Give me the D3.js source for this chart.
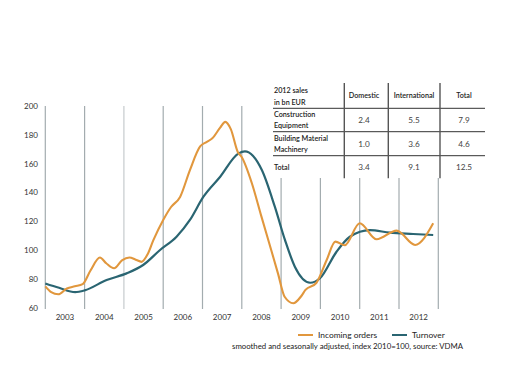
<!DOCTYPE html>
<html>
<head>
<meta charset="utf-8">
<script src="https://cdn.jsdelivr.net/npm/d3@7"></script>
<style>
  body { margin: 0; background: #fff; }
  svg { display: block; font-family: Lato, "Open Sans", sans-serif; }
</style>
</head>
<body>
<div id="chart"></div>
<script>
// incoming orders (decimal year, index 2010=100)
const ordersT = [2003.00, 2003.15, 2003.33, 2003.55, 2003.75, 2003.95, 2004.15, 2004.39, 2004.55, 2004.75,
  2004.95, 2005.14, 2005.30, 2005.45, 2005.60, 2005.75, 2006.00, 2006.20, 2006.43, 2006.68,
  2006.94, 2007.10, 2007.25, 2007.45, 2007.58, 2007.72, 2007.90, 2008.00, 2008.25, 2008.50,
  2008.75, 2008.92, 2009.09, 2009.31, 2009.52, 2009.62, 2009.90, 2010.16, 2010.38, 2010.62,
  2011.00, 2011.43, 2011.94, 2012.41, 2012.87];
const ordersV = [75, 71, 69.5, 73.5, 75, 76.5, 86, 95, 91, 87.5,
  93, 95, 93.5, 92, 97, 107, 121, 130, 137, 155.6,
  172, 175, 177.6, 185, 189, 184, 168, 164.5, 147, 123.3,
  100, 84, 67.8, 63.3, 68.5, 72.5, 77.5, 93.3, 106, 103.5,
  118.7, 107.6, 113.6, 103.7, 118.7];

// turnover
const turnT = [2003.00, 2003.35, 2003.76, 2004.00, 2004.56, 2005.07, 2005.49, 2005.92, 2006.34, 2006.68,
  2007.02, 2007.45, 2007.91, 2008.08, 2008.51, 2008.84, 2009.10, 2009.35, 2009.74, 2009.99,
  2010.41, 2010.75, 2011.26, 2011.77, 2012.36, 2012.87];
const turnV = [77, 74, 71, 72.2, 79.4, 84, 89.8, 100.2, 109.4, 121,
  137, 151, 167, 168.5, 155.6, 130.2, 107, 88.6, 77.5, 80.6,
  99, 109.4, 114, 112.2, 111.3, 110.6];

const years = [2003, 2004, 2005, 2006, 2007, 2008, 2009, 2010, 2011, 2012];
const yTicks = [60, 80, 100, 120, 140, 160, 180, 200];

// 2012 sales table
const tableCols = ["Domestic", "International", "Total"];
const tableRows = [["Construction", "Equipment"], ["Building Material", "Machinery"], ["Total"]];
const tableVals = [["2.4", "5.5", "7.9"], ["1.0", "3.6", "4.6"], ["3.4", "9.1", "12.5"]];

const legendNames = ["Incoming orders", "Turnover"];
const note = "smoothed and seasonally adjusted, index 2010=100, source: VDMA";

const w = 505, h = 379;
const orange = "#e1973d", teal = "#2a6572";

const svg = d3.select("#chart").append("svg").attr("width", w).attr("height", h);

const x = d3.scaleLinear().domain([2003, 2013]).range([45.3, 438.3]);
const y = d3.scaleLinear().domain([60, 200]).range([308, 106]);

// year separators (the ones right of the table stop below it)
const seps = d3.range(2003, 2014);
svg.append("g").selectAll("line").data(seps).enter().append("line")
  .attr("x1", d => x(d)).attr("x2", d => x(d))
  .attr("y1", d => d >= 2009 ? 178 : y(200))
  .attr("y2", y(60) + 1)
  .attr("stroke", d => d === 2005 ? "#c6cbcd" : "#a3acaf")
  .attr("stroke-width", 1.2);

// y labels
svg.append("g").selectAll("text").data(yTicks).enter().append("text")
  .attr("x", 38).attr("y", d => y(d)).attr("dy", "0.35em")
  .attr("text-anchor", "end").attr("font-size", 8).attr("fill", "#333")
  .text(d => d);

// x labels
svg.append("g").selectAll("text").data(years).enter().append("text")
  .attr("x", d => x(d + 0.5)).attr("y", 320)
  .attr("text-anchor", "middle").attr("font-size", 8).attr("fill", "#333")
  .text(d => d);

const line = d3.line().x(d => x(d[0])).y(d => y(d[1])).curve(d3.curveMonotoneX);

svg.append("path").datum(d3.zip(turnT, turnV))
  .attr("d", line).attr("fill", "none").attr("stroke", teal).attr("stroke-width", 2.2);
svg.append("path").datum(d3.zip(ordersT, ordersV))
  .attr("d", line).attr("fill", "none").attr("stroke", orange).attr("stroke-width", 2.1);

// table
const tb = svg.append("g").attr("font-size", 7.2).attr("fill", "#222");
const colX = [364, 414, 464];
const sepX = [344.3, 388.3, 440];
const ruleY = [108.3, 131.7, 155.7];
const rowMid = [120, 144, 167.3];

tb.append("text").attr("x", 274).attr("y", 93.3).attr("font-weight", 600).text("2012 sales");
tb.append("text").attr("x", 274).attr("y", 104.5).attr("font-weight", 600).text("in bn EUR");
tb.selectAll(".col").data(tableCols).enter().append("text")
  .attr("x", (d, i) => colX[i]).attr("y", 95).attr("dy", "0.35em")
  .attr("text-anchor", "middle").attr("font-weight", 600).text(d => d);

tableRows.forEach((r, i) => {
  r.forEach((s, j) => {
    tb.append("text").attr("x", 274)
      .attr("y", rowMid[i] + (r.length === 1 ? 0 : (j === 0 ? -5.4 : 5.4)))
      .attr("dy", "0.35em").attr("font-weight", 600).text(s);
  });
  tb.selectAll(".v" + i).data(tableVals[i]).enter().append("text")
    .attr("x", (d, k) => colX[k]).attr("y", rowMid[i]).attr("dy", "0.35em")
    .attr("text-anchor", "middle").attr("font-size", 8.2).attr("fill", "#444")
    .text(d => d);
});

tb.selectAll(".rule").data(ruleY).enter().append("line")
  .attr("x1", 273).attr("x2", 485).attr("y1", d => d).attr("y2", d => d)
  .attr("stroke", "#333").attr("stroke-width", 1);
tb.selectAll(".sep").data(sepX).enter().append("line")
  .attr("x1", d => d).attr("x2", d => d).attr("y1", 83).attr("y2", 178.3)
  .attr("stroke", "#555").attr("stroke-width", 1.4);

// legend
const lg = svg.append("g").attr("font-size", 8.4).attr("fill", "#222");
const lgX = [298, 392];
legendNames.forEach((n, i) => {
  lg.append("line").attr("x1", lgX[i]).attr("x2", lgX[i] + 15).attr("y1", 335).attr("y2", 335)
    .attr("stroke", i === 0 ? orange : teal).attr("stroke-width", 2);
  lg.append("text").attr("x", lgX[i] + 20).attr("y", 335).attr("dy", "0.35em").text(n);
});

svg.append("text").attr("x", 232).attr("y", 346.5).attr("dy", "0.35em")
  .attr("font-size", 7.8).attr("fill", "#222").text(note);
</script>
</body>
</html>
